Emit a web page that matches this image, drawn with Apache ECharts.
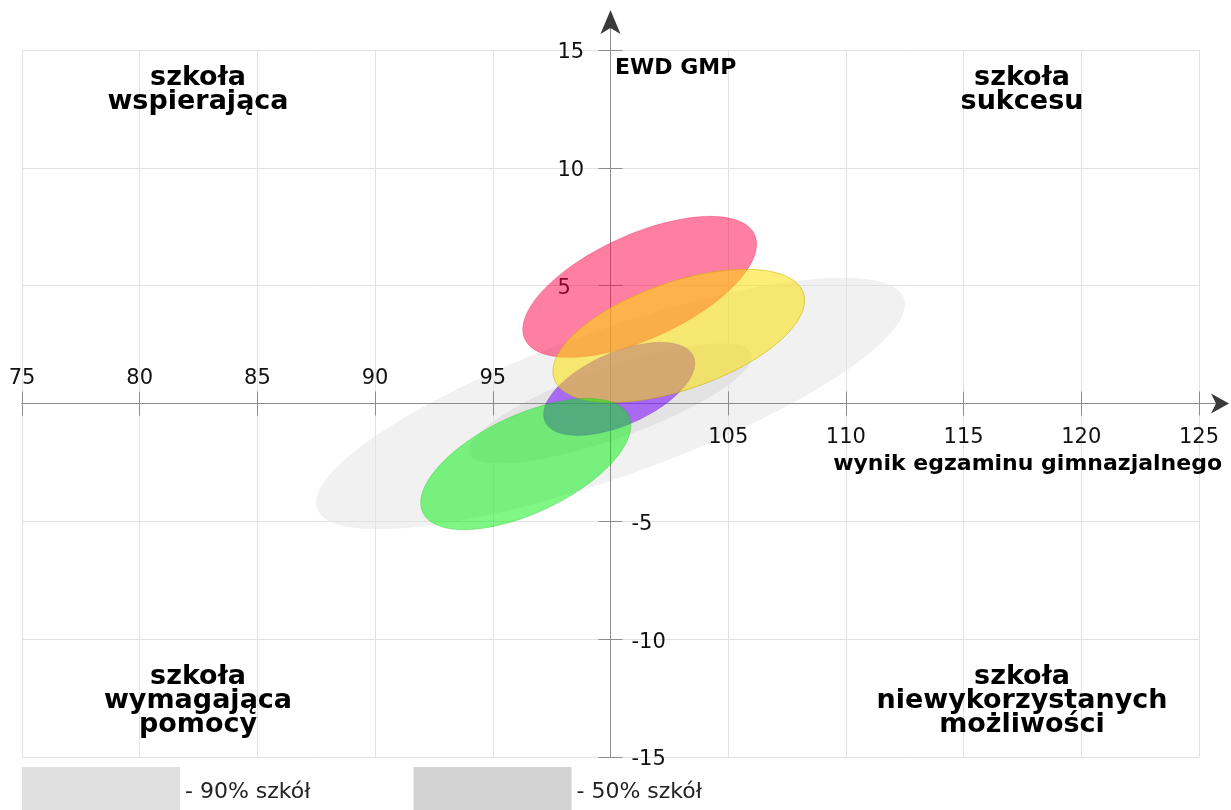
<!DOCTYPE html>
<html><head><meta charset="utf-8">
<script src="https://cdn.jsdelivr.net/npm/echarts@6/dist/echarts.min.js"></script>
<style>html,body{margin:0;padding:0;background:#fff}#c{width:1231px;height:810px}</style>
</head><body><div id="c"></div>
<script>
// ---- axes ----
const xMin = 75, xMax = 125, xStep = 5, xCross = 100;
const yMin = -15, yMax = 15, yStep = 5, yCross = 0;
const xLabelsAbove = [75, 80, 85, 90, 95];
const xLabelsBelow = [105, 110, 115, 120, 125];
const yLabelsLeft = [5, 10, 15];
const yLabelsRight = [-5, -10, -15];
// ---- ellipses (data units) ----
const seriesNames = ['90% szkół', '50% szkół', 'szkoła A', 'szkoła C', 'szkoła B', 'szkoła D'];
const centerX   = [100, 100, 101.24, 100.37, 102.9, 96.4];
const centerY   = [0, 0, 4.95, 0.62, 2.87, -2.57];
const semiMajor = [13.24, 6.35, 5.36, 3.44, 5.6, 4.83];
const semiMinor = [3.1, 1.5, 2.21, 1.54, 2.28, 2.08];
const tiltDeg   = [19.7, 19.5, 24.4, 23.7, 19.0, 25.1];
// ---- styles ----
const fills = ['rgba(224,224,224,0.45)', 'rgba(211,211,211,0.45)', 'rgba(255,0,70,0.5)',
               'rgba(128,25,248,0.6)', 'rgba(252,222,0,0.53)', 'rgba(0,240,10,0.5)'];
const strokes = [null, null, 'rgba(230,0,60,0.3)', 'rgba(110,20,220,0.3)', 'rgba(200,175,0,0.55)', 'rgba(0,190,10,0.3)'];
const layerZ = [0, 0, 3, 4, 5, 6];
const legendColors = ['#e0e0e0', '#d3d3d3'];
const FONT = 'DejaVu Sans';
const axisColor = '#8c8c8c';
const gridColor = '#e2e2e2';
const G = {left: 22, right: 32, top: 50, bottom: 53};

const chart = echarts.init(document.getElementById('c'), null, {renderer: 'canvas'});
const gridW = chart.getWidth() - G.left - G.right;
const gridH = chart.getHeight() - G.top - G.bottom;
const yOffset = -(xCross - xMin) / (xMax - xMin) * gridW;
const xOffset = -(yCross - yMin) / (yMax - yMin) * gridH;

function makeRender(i) {
  return function (params, api) {
    const cx = api.value(0), cy = api.value(1), a = api.value(2), b = api.value(3);
    const t = api.value(4) * Math.PI / 180;
    const pts = [];
    const N = 160;
    for (let k = 0; k < N; k++) {
      const u = k / N * 2 * Math.PI;
      const x = cx + a * Math.cos(t) * Math.cos(u) - b * Math.sin(t) * Math.sin(u);
      const y = cy + a * Math.sin(t) * Math.cos(u) + b * Math.cos(t) * Math.sin(u);
      pts.push(api.coord([x, y]));
    }
    return {
      type: 'polygon',
      shape: {points: pts},
      style: {fill: fills[i], stroke: strokes[i] || 'none', lineWidth: strokes[i] ? 1 : 0}
    };
  };
}

const seriesList = seriesNames.map((name, i) => ({
  type: 'custom',
  name: name,
  xAxisIndex: 0, yAxisIndex: 0,
  renderItem: makeRender(i),
  itemStyle: {color: fills[i]},
  encode: {x: 0, y: 1},
  data: [[centerX[i], centerY[i], semiMajor[i], semiMinor[i], tiltDeg[i]]],
  z: layerZ[i]
}));

const labelBase = {fontSize: 21, color: '#111', fontFamily: FONT, showMinLabel: true, showMaxLabel: true};
const yRich = {v: {fontSize: 21, color: '#111', fontFamily: FONT, padding: [6, 0, 0, 0]}};

const option = {
  animation: false,
  backgroundColor: '#fff',
  grid: {left: G.left, right: G.right, top: G.top, bottom: G.bottom, containLabel: false},
  legend: {
    left: 22, top: 767, padding: 0, itemGap: 103,
    itemWidth: 158, itemHeight: 43, icon: 'rect',
    formatter: n => '{t|- ' + n + '}',
    textStyle: {fontSize: 22, color: '#222', fontFamily: FONT,
      rich: {t: {fontSize: 22, color: '#222', fontFamily: FONT, padding: [8, 0, 0, 0]}}},
    selectedMode: false,
    data: [
      {name: seriesNames[0], itemStyle: {color: legendColors[0], borderWidth: 0}},
      {name: seriesNames[1], itemStyle: {color: legendColors[1], borderWidth: 0}}
    ]
  },
  xAxis: [
    {
      type: 'value', min: xMin, max: xMax, interval: xStep, position: 'bottom', offset: xOffset, z: 1,
      axisLine: {show: true, onZero: false, lineStyle: {color: axisColor, width: 1}},
      axisTick: {show: true, inside: true, length: 12, lineStyle: {color: axisColor}},
      axisLabel: Object.assign({inside: true, margin: 14,
        formatter: v => xLabelsAbove.includes(v) ? String(v) : ''}, labelBase),
      splitLine: {show: true, lineStyle: {color: gridColor, width: 1}}
    },
    {
      type: 'value', min: xMin, max: xMax, interval: xStep, position: 'bottom', offset: xOffset, z: 1,
      axisLine: {show: true, onZero: false, lineStyle: {color: axisColor, width: 1}},
      axisTick: {show: true, inside: false, length: 12, lineStyle: {color: axisColor}},
      axisLabel: Object.assign({inside: false, margin: 24,
        formatter: v => xLabelsBelow.includes(v) ? String(v) : ''}, labelBase),
      splitLine: {show: false}
    }
  ],
  yAxis: [
    {
      type: 'value', min: yMin, max: yMax, interval: yStep, position: 'left', offset: yOffset, z: 1,
      axisLine: {show: true, onZero: false, lineStyle: {color: axisColor, width: 1}},
      axisTick: {show: true, inside: false, length: 12, lineStyle: {color: axisColor}},
      axisLabel: Object.assign({inside: false, margin: 53, align: 'left', rich: yRich,
        formatter: v => yLabelsLeft.includes(v) ? '{v|' + v + '}' : ''}, labelBase),
      splitLine: {show: true, lineStyle: {color: gridColor, width: 1}}
    },
    {
      type: 'value', min: yMin, max: yMax, interval: yStep, position: 'left', offset: yOffset, z: 1,
      axisLine: {show: true, onZero: false, lineStyle: {color: axisColor, width: 1}},
      axisTick: {show: true, inside: true, length: 12, lineStyle: {color: axisColor}},
      axisLabel: Object.assign({inside: true, margin: 21, align: 'left', rich: yRich,
        formatter: v => yLabelsRight.includes(v) ? '{v|' + v + '}' : ''}, labelBase),
      splitLine: {show: false}
    }
  ],
  series: seriesList
};
chart.setOption(option);

// decorations: axis extensions + arrows, texts
const topPt = chart.convertToPixel({xAxisIndex: 0, yAxisIndex: 0}, [xCross, yMax]);
const rightPt = chart.convertToPixel({xAxisIndex: 0, yAxisIndex: 0}, [xMax, yCross]);
const arrowColor = '#3a3a3a';
const boldFont = 'bold 27px "DejaVu Sans"';
function quadText(txt, x, y) {
  return {type: 'text', x: x, y: y, z: 10,
    style: {text: txt, font: boldFont, fill: '#000', align: 'center', verticalAlign: 'middle', lineHeight: 24}};
}
chart.setOption({
  graphic: [
    {type: 'line', z: 1, shape: {x1: topPt[0], y1: topPt[1], x2: topPt[0], y2: topPt[1] - 26},
      style: {stroke: axisColor, lineWidth: 1}},
    {type: 'polygon', z: 1, shape: {points: [[topPt[0], topPt[1] - 40], [topPt[0] - 10, topPt[1] - 16], [topPt[0], topPt[1] - 22], [topPt[0] + 10, topPt[1] - 16]]},
      style: {fill: arrowColor}},
    {type: 'line', z: 1, shape: {x1: rightPt[0], y1: rightPt[1], x2: rightPt[0] + 18, y2: rightPt[1]},
      style: {stroke: axisColor, lineWidth: 1}},
    {type: 'polygon', z: 1, shape: {points: [[rightPt[0] + 30, rightPt[1]], [rightPt[0] + 12, rightPt[1] - 10], [rightPt[0] + 17, rightPt[1]], [rightPt[0] + 12, rightPt[1] + 10]]},
      style: {fill: arrowColor}},
    quadText('szkoła\nwspierająca', 198, 90),
    quadText('szkoła\nsukcesu', 1022, 90),
    quadText('szkoła\nwymagająca\npomocy', 198, 701),
    quadText('szkoła\nniewykorzystanych\nmożliwości', 1022, 701),
    {type: 'text', x: 615, y: 68, z: 10,
      style: {text: 'EWD GMP', font: 'bold 22px "DejaVu Sans"', fill: '#000', align: 'left', verticalAlign: 'middle'}},
    {type: 'text', x: 1222, y: 464, z: 10,
      style: {text: 'wynik egzaminu gimnazjalnego', font: 'bold 22px "DejaVu Sans"', fill: '#000', align: 'right', verticalAlign: 'middle'}}
  ]
});
</script></body></html>
